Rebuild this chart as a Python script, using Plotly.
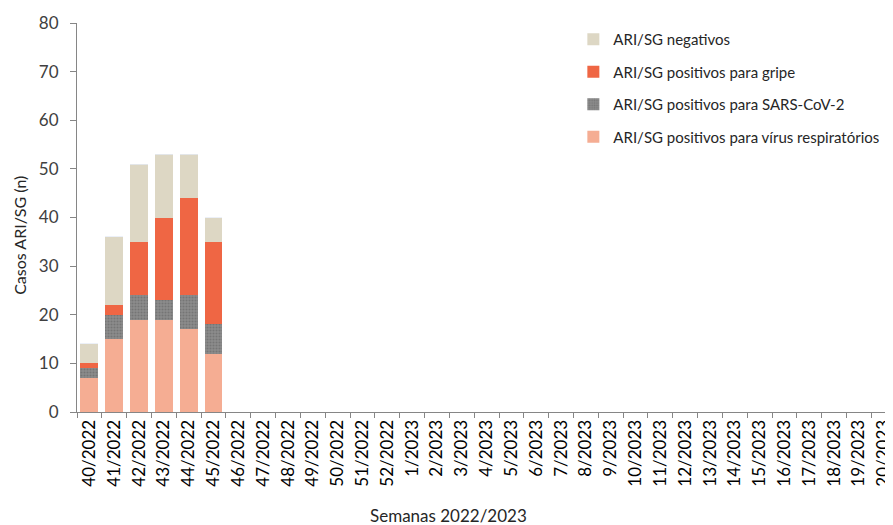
import plotly.graph_objects as go

weeks = [f"{w}/2022" for w in range(40, 53)] + [f"{w}/2023" for w in range(1, 21)]

# weekly counts (only first six weeks reported)
resp_viruses = [7, 15, 19, 19, 17, 12]
sars_cov2 = [2, 5, 5, 4, 7, 6]
influenza = [1, 2, 11, 17, 20, 17]
negatives = [4, 14, 16, 13, 9, 5]

# name, values, colour, pattern, legend position (top = 1)
series = [
    ("ARI/SG positivos para vírus respiratórios", resp_viruses, "#f5ad93", None, 4),
    ("ARI/SG positivos para SARS-CoV-2", sars_cov2, "#808080", ".", 3),
    ("ARI/SG positivos para gripe", influenza, "#ef6644", None, 2),
    ("ARI/SG negativos", negatives, "#ddd7c4", None, 1),
]

fig = go.Figure()

for name, vals, color, pattern, rank in series:
    marker = dict(color=color, line=dict(width=0))
    if pattern:
        marker["pattern"] = dict(shape=pattern, fgcolor="#5e5e5e", bgcolor="#8c8c8c",
                                 size=3, solidity=0.4)
    fig.add_trace(go.Bar(
        x=weeks[:len(vals)],
        y=vals,
        name=name,
        legendgroup=name,
        legendrank=rank,
        marker=marker,
        width=0.72,
    ))

# keep every week on the axis, even the empty ones
fig.add_trace(go.Bar(x=weeks, y=[0] * len(weeks), showlegend=False,
                     marker=dict(color="rgba(0,0,0,0)"), hoverinfo="skip"))

fig.update_layout(
    width=885,
    height=517,
    barmode="stack",
    bargap=0.28,
    plot_bgcolor="white",
    paper_bgcolor="white",
    margin=dict(l=69, r=0, t=15, b=113),
    font=dict(family="Lato", color="#404040"),
    showlegend=True,
    legend=dict(
        x=0.6143, y=1.0,
        xanchor="left", yanchor="top",
        traceorder="grouped",
        tracegroupgap=10,
        font=dict(size=15, color="#262626"),
        itemwidth=30,
        bgcolor="rgba(0,0,0,0)",
    ),
    xaxis=dict(
        type="category",
        categoryorder="array",
        categoryarray=weeks,
        range=[-0.5, 32.05],
        tickangle=-90,
        ticks="outside",
        tickson="boundaries",
        ticklen=5,
        tickcolor="#868686",
        showline=True,
        linecolor="#868686",
        showgrid=False,
        tickfont=dict(size=17, color="black"),
    ),
    yaxis=dict(
        range=[0, 80],
        dtick=10,
        ticks="outside",
        ticklen=6,
        tickcolor="#868686",
        showline=True,
        linecolor="#868686",
        showgrid=False,
        zeroline=False,
        ticklabelstandoff=8,
        tickfont=dict(size=17, color="#404040"),
    ),
    annotations=[
        dict(text="Semanas 2022/2023", x=0.4596, y=-0.267, xref="paper", yref="paper",
             xanchor="center", yanchor="middle", showarrow=False,
             font=dict(size=17, color="#262626")),
        dict(text="Casos ARI/SG (n)", x=-0.072, y=0.455, xref="paper", yref="paper",
             xanchor="center", yanchor="middle", showarrow=False, textangle=-90,
             font=dict(size=16, color="#262626")),
    ],
)

fig.write_html("out.html")
